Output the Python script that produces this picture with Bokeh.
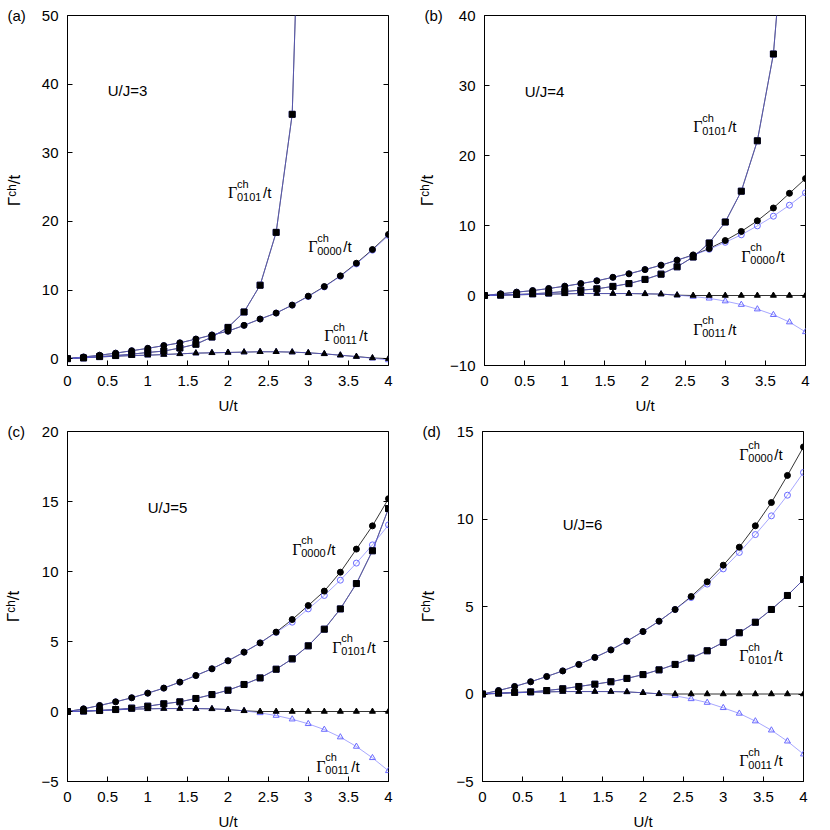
import numpy as np
from bokeh.plotting import figure
from bokeh.layouts import column, row
from bokeh.models import FixedTicker, LinearAxis, Range1d
from bokeh.core.properties import value
from bokeh.embed import file_html
from bokeh.resources import INLINE

NAN = float("nan")

# ---------------- data ----------------
u_over_t = [0.0, 0.2, 0.4, 0.6, 0.8, 1.0, 1.2, 1.4, 1.6, 1.8, 2.0,
            2.2, 2.4, 2.6, 2.8, 3.0, 3.2, 3.4, 3.6, 3.8, 4.0]
x_ticks = [0, 0.5, 1, 1.5, 2, 2.5, 3, 3.5, 4]
x_tick_labels = ["0", "0.5", "1", "1.5", "2", "2.5", "3", "3.5", "4"]

panel_tags = ["(a)", "(b)", "(c)", "(d)"]
uj_texts = ["U/J=3", "U/J=4", "U/J=5", "U/J=6"]
y_title = "Γᶜʰ/t"
x_title = "U/t"

y_ranges = [(-1, 50), (-10, 40), (-5, 20), (-5, 15)]
y_ticks = [[0, 10, 20, 30, 40, 50],
           [-10, 0, 10, 20, 30, 40],
           [-5, 0, 5, 10, 15, 20],
           [-5, 0, 5, 10, 15]]

# panel (a)  U/J=3
a_g0000_black = [0, 0.24, 0.5, 0.8, 1.15, 1.5, 1.9, 2.3, 2.85, 3.45, 4.0,
                 4.85, 5.77, 6.64, 7.8, 9.1, 10.5, 12.06, 13.9, 15.9, 18.1]
a_g0000_blue = [0, 0.24, 0.5, 0.8, 1.15, 1.5, 1.9, 2.3, 2.85, 3.45, 4.0,
                4.85, 5.77, 6.64, 7.8, 9.05, 10.45, 12.0, 13.8, 15.8, 17.95]
a_g0101_black = [0, 0.1, 0.3, 0.45, 0.65, 0.9, 1.1, 1.55, 2.1, 3.15, 4.55,
                 6.8, 10.7, 18.4, 35.6, 110, NAN, NAN, NAN, NAN, NAN]
a_g0101_blue = [0, 0.1, 0.3, 0.45, 0.65, 0.9, 1.1, 1.55, 2.1, 3.15, 4.55,
                6.8, 10.7, 18.4, 35.6, 110, NAN, NAN, NAN, NAN, NAN]
a_g0011_black = [0, 0.15, 0.25, 0.35, 0.45, 0.5, 0.6, 0.7, 0.8, 0.85, 0.9,
                 0.95, 1.0, 1.0, 0.95, 0.85, 0.7, 0.5, 0.3, 0.1, 0.0]
a_g0011_blue = [0, 0.15, 0.25, 0.35, 0.45, 0.5, 0.6, 0.7, 0.8, 0.85, 0.9,
                0.95, 1.0, 1.0, 0.95, 0.85, 0.7, 0.5, 0.3, 0.05, -0.2]

# panel (b)  U/J=4
b_g0000_black = [0, 0.24, 0.48, 0.7, 1.0, 1.33, 1.7, 2.1, 2.6, 3.1, 3.7,
                 4.33, 5.05, 5.8, 6.7, 7.85, 9.15, 10.67, 12.5, 14.6, 16.7]
b_g0000_blue = [0, 0.24, 0.48, 0.7, 1.0, 1.33, 1.7, 2.1, 2.6, 3.1, 3.7,
                4.33, 5.05, 5.75, 6.6, 7.6, 8.67, 9.95, 11.33, 12.9, 14.67]
b_g0101_black = [0, 0.05, 0.14, 0.24, 0.38, 0.57, 0.76, 0.95, 1.3, 1.7, 2.3,
                 3.05, 4.1, 5.5, 7.5, 10.5, 14.9, 22.1, 34.5, 62, NAN]
b_g0101_blue = [0, 0.05, 0.14, 0.24, 0.38, 0.57, 0.76, 0.95, 1.3, 1.7, 2.3,
                3.05, 4.1, 5.5, 7.5, 10.5, 14.9, 22.1, 34.5, 62, NAN]
b_g0011_black = [0, 0.05, 0.1, 0.15, 0.2, 0.24, 0.28, 0.28, 0.28, 0.28, 0.24,
                 0.2, 0.05, 0, 0, 0, 0, 0, 0, 0, 0]
b_g0011_blue = [0, 0.05, 0.1, 0.15, 0.2, 0.24, 0.28, 0.28, 0.28, 0.28, 0.24,
                0.2, 0.05, -0.15, -0.4, -0.8, -1.3, -1.95, -2.75, -3.8, -5.2]

# panel (c)  U/J=5
c_g0000_black = [0, 0.19, 0.43, 0.69, 0.98, 1.31, 1.67, 2.1, 2.57, 3.05, 3.62,
                 4.24, 4.9, 5.67, 6.57, 7.57, 8.6, 9.95, 11.6, 13.26, 15.2]
c_g0000_blue = [0, 0.19, 0.43, 0.69, 0.98, 1.31, 1.67, 2.1, 2.57, 3.05, 3.62,
                4.24, 4.9, 5.65, 6.38, 7.33, 8.29, 9.38, 10.6, 11.9, 13.33]
c_g0101_black = [0, 0.03, 0.07, 0.14, 0.24, 0.38, 0.55, 0.69, 0.93, 1.21, 1.52,
                 1.93, 2.4, 3.02, 3.76, 4.69, 5.88, 7.33, 9.14, 11.48, 14.5]
c_g0101_blue = [0, 0.03, 0.07, 0.14, 0.24, 0.38, 0.55, 0.69, 0.93, 1.21, 1.52,
                1.93, 2.4, 3.02, 3.76, 4.69, 5.88, 7.33, 9.14, 11.48, 14.5]
c_g0011_black = [0, 0.02, 0.07, 0.12, 0.17, 0.19, 0.21, 0.21, 0.21, 0.19, 0.14,
                 0.05, 0, 0, 0, 0, 0, 0, 0, 0, 0]
c_g0011_blue = [0, 0.02, 0.07, 0.12, 0.17, 0.19, 0.21, 0.21, 0.21, 0.19, 0.14,
                0.05, -0.1, -0.29, -0.55, -0.88, -1.29, -1.83, -2.5, -3.31, -4.24]

# panel (d)  U/J=6
d_g0000_black = [0, 0.2, 0.43, 0.7, 1.0, 1.32, 1.69, 2.09, 2.52, 3.02, 3.57,
                 4.16, 4.83, 5.57, 6.41, 7.36, 8.39, 9.61, 10.94, 12.49, 14.12]
d_g0000_blue = [0, 0.2, 0.43, 0.7, 1.0, 1.32, 1.69, 2.09, 2.52, 3.02, 3.57,
                4.16, 4.83, 5.51, 6.28, 7.15, 8.09, 9.11, 10.18, 11.36, 12.66]
d_g0101_black = [0, 0.05, 0.09, 0.12, 0.2, 0.3, 0.43, 0.56, 0.7, 0.89, 1.11,
                 1.38, 1.69, 2.05, 2.47, 2.95, 3.5, 4.1, 4.83, 5.63, 6.54]
d_g0101_blue = [0, 0.05, 0.09, 0.12, 0.2, 0.3, 0.43, 0.56, 0.7, 0.89, 1.11,
                1.38, 1.69, 2.05, 2.47, 2.95, 3.5, 4.1, 4.83, 5.63, 6.54]
d_g0011_black = [0, 0.03, 0.07, 0.1, 0.12, 0.14, 0.14, 0.14, 0.14, 0.12, 0.07,
                 0.01, 0, 0, 0, 0, 0, 0, 0, 0, 0]
d_g0011_blue = [0, 0.03, 0.07, 0.1, 0.12, 0.14, 0.14, 0.14, 0.14, 0.12, 0.07,
                0.01, -0.1, -0.28, -0.49, -0.79, -1.11, -1.55, -2.07, -2.7, -3.44]

panel_series = [
    [(a_g0000_black, a_g0000_blue, "circle"), (a_g0101_black, a_g0101_blue, "square"),
     (a_g0011_black, a_g0011_blue, "triangle")],
    [(b_g0000_black, b_g0000_blue, "circle"), (b_g0101_black, b_g0101_blue, "square"),
     (b_g0011_black, b_g0011_blue, "triangle")],
    [(c_g0000_black, c_g0000_blue, "circle"), (c_g0101_black, c_g0101_blue, "square"),
     (c_g0011_black, c_g0011_blue, "triangle")],
    [(d_g0000_black, d_g0000_blue, "circle"), (d_g0101_black, d_g0101_blue, "square"),
     (d_g0011_black, d_g0011_blue, "triangle")],
]

# curve-label anchors (data coords of the Gamma's baseline start)
curve_labels = [
    [(2.0, 24.2, "0101"), (3.0, 16.3, "0000"), (3.2, 3.3, "0011")],
    [(2.6, 24.1, "0101"), (3.2, 5.6, "0000"), (2.6, -4.8, "0011")],
    [(2.8, 11.6, "0000"), (3.3, 4.6, "0101"), (3.1, -3.9, "0011")],
    [(3.2, 13.7, "0000"), (3.2, 2.2, "0101"), (3.2, -3.8, "0011")],
]
uj_positions = [(0.5, 39.1), (0.5, 29.2), (1.0, 14.6), (1.0, 9.7)]

# ---------------- style ----------------
SANS = "Liberation Sans"
SERIF = "Liberation Serif"
BLUE = "#6b6bff"
FS = "15px"
SUBFS = "11px"
W = 415
FW, FH = 321, 350
LEFT, TOP = 67, 15
YLABEL_STANDOFF = [15, 10, 15, 15]


def gamma_text(p, x, y, sub):
    common = dict(text_baseline="alphabetic", text_align="left", text_color="black")
    p.text(x=[x], y=[y], text=["Γ"], text_font=value(SERIF), text_font_size="16px", **common)
    p.text(x=[x], y=[y], text=["ch"], x_offset=9, y_offset=-9,
           text_font=value(SANS), text_font_size=SUBFS, **common)
    p.text(x=[x], y=[y], text=[sub], x_offset=9, y_offset=4,
           text_font=value(SANS), text_font_size=SUBFS, **common)
    p.text(x=[x], y=[y], text=["/t"], x_offset=35, y_offset=0,
           text_font=value(SANS), text_font_size=FS, **common)


def make_panel(i):
    p = figure(frame_width=FW, frame_height=FH,
               min_border_left=LEFT, min_border_right=W - LEFT - FW,
               min_border_top=TOP, min_border_bottom=W - TOP - FH,
               x_range=Range1d(0, 4), y_range=Range1d(*y_ranges[i]),
               output_backend="svg", toolbar_location=None)
    p.grid.visible = False
    p.outline_line_color = "black"
    p.outline_line_width = 1
    p.background_fill_color = "white"
    p.border_fill_color = "white"

    # panel tag as a left-aligned title pulled down next to the top tick label
    p.title.text = panel_tags[i]
    p.title.align = "left"
    p.title.offset = -60
    p.title.standoff = -17
    p.title.vertical_align = "bottom"
    p.title.text_font = SANS
    p.title.text_font_size = FS
    p.title.text_font_style = "normal"
    p.title.text_color = "black"

    xa = p.xaxis[0]
    xa.ticker = FixedTicker(ticks=x_ticks)
    xa.major_label_overrides = {t: s for t, s in zip(x_ticks, x_tick_labels)}
    ya = p.yaxis[0]
    ya.ticker = FixedTicker(ticks=y_ticks[i])
    for ax in (xa, ya):
        ax.major_tick_in = 5
        ax.major_tick_out = 0
        ax.minor_tick_in = 0
        ax.minor_tick_out = 0
        ax.axis_line_color = "black"
        ax.major_tick_line_color = "black"
        ax.major_label_text_font = SANS
        ax.major_label_text_font_size = FS
        ax.major_label_text_color = "black"
        ax.axis_label_text_font = SANS
        ax.axis_label_text_font_style = "normal"
        ax.axis_label_text_color = "black"
    xa.axis_label_text_font_size = FS
    ya.axis_label_text_font_size = "17px"
    xa.major_label_standoff = 10
    ya.major_label_standoff = 9
    xa.axis_label = x_title
    xa.axis_label_standoff = 8
    ya.axis_label = y_title
    ya.axis_label_standoff = YLABEL_STANDOFF[i]

    ra = LinearAxis(ticker=FixedTicker(ticks=y_ticks[i]),
                    major_label_overrides={t: "" for t in y_ticks[i]},
                    major_tick_in=5, major_tick_out=0, minor_tick_in=0, minor_tick_out=0,
                    axis_line_color=None, major_label_standoff=0)
    p.add_layout(ra, "right")

    xs = np.array(u_over_t, dtype=float)
    series = panel_series[i]
    for yk, yb, mk in series:
        p.line(xs, np.array(yk, dtype=float), line_color="black", line_width=0.8)
    for yk, yb, mk in series:
        p.line(xs, np.array(yb, dtype=float), line_color=BLUE, line_width=0.8, line_alpha=0.75)
    for yk, yb, mk in series:
        p.scatter(xs, np.array(yb, dtype=float), marker=mk, size=6,
                  fill_color=None, line_color=BLUE, line_width=1)
    for yk, yb, mk in series:
        p.scatter(xs, np.array(yk, dtype=float), marker=mk, size=6,
                  fill_color="black", line_color="black")

    for (lx, ly, sub) in curve_labels[i]:
        gamma_text(p, lx, ly, sub)

    ux, uy = uj_positions[i]
    p.text(x=[ux], y=[uy], text=[uj_texts[i]], text_font=value(SANS), text_font_size=FS,
           text_baseline="alphabetic", text_align="left", text_color="black")
    return p


panels = [make_panel(i) for i in range(4)]
layout = column(row(panels[0], panels[1]), row(panels[2], panels[3]))

with open("out.html", "w") as f:
    f.write(file_html(layout, INLINE))
